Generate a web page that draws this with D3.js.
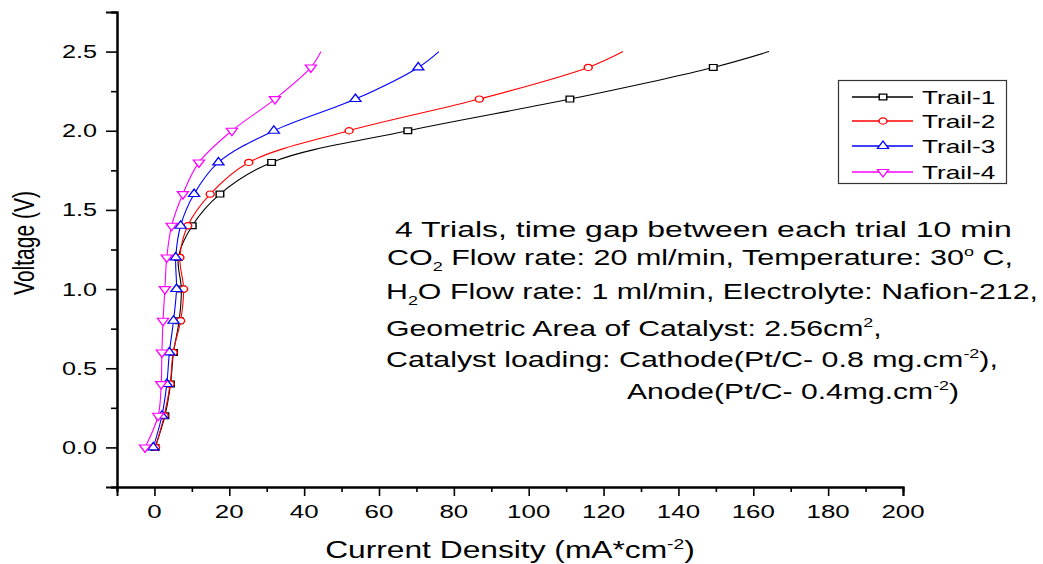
<!DOCTYPE html>
<html>
<head>
<meta charset="utf-8">
<script src="https://cdn.jsdelivr.net/npm/d3@7"></script>
<style>
    html, body { margin: 0; padding: 0; background: #ffffff; }
    #chartArea { width: 1043px; height: 564px; }
    text { font-family: "Liberation Sans", Arial, sans-serif; fill: #000000; }
</style>
</head>
<body>
<div id="chartArea"></div>
<script>
'use strict';

// data
const voltage = [0, 0.2, 0.4, 0.6, 0.8, 1.0, 1.2, 1.4, 1.6, 1.8, 2.0, 2.2, 2.4, 2.5];
const trail1 = [0.15, 2.8, 4.3, 5.1, 6.6, 7.2, 6.4, 10.1, 17.5, 31.3, 67.7, 111.0, 149.3, 164.2];
const trail2 = [0.3, 2.6, 4.2, 5.0, 7.0, 7.8, 6.8, 8.9, 14.9, 25.2, 52.0, 86.8, 115.9, 125.2];
const trail3 = [-0.3, 2.0, 3.3, 4.0, 5.1, 5.9, 5.7, 7.0, 10.6, 17.1, 31.9, 53.7, 70.5, 76.0];
const trail4 = [-2.5, 1.0, 1.8, 2.0, 2.3, 2.8, 3.3, 4.6, 7.6, 11.9, 20.7, 32.2, 41.8, 44.5];
const seriesNames = ["Trail-1", "Trail-2", "Trail-3", "Trail-4"];
const markerMaxVoltage = 2.4; // last point (2.5 V) has no symbol

const xMajorTicks = [0, 20, 40, 60, 80, 100, 120, 140, 160, 180, 200];
const xMinorTicks = [-10, 10, 30, 50, 70, 90, 110, 130, 150, 170, 190];
const yMajorTicks = [0.0, 0.5, 1.0, 1.5, 2.0, 2.5];
const yMinorTicks = [-0.25, 0.25, 0.75, 1.25, 1.75, 2.25, 2.75];

const xTitle = "Current Density (mA*cm";
const yTitle = "Voltage (V)";

{ // start scope

// the original picture is stretched sideways, text and symbols too
const stretch = 1.44;

const svg = d3.select("#chartArea")
                .append("svg")
                .attr("width", 1043)
                .attr("height", 564);

const xScale = d3.scaleLinear().domain([-10, 200]).range([117, 903]);
const yScale = d3.scaleLinear().domain([-0.25, 2.75]).range([487, 12]);

const styles = [
    { color: "#000000", symbol: d3.symbolSquare, size: 34, rotate: 0 },
    { color: "#ff0000", symbol: d3.symbolCircle, size: 30, rotate: 0 },
    { color: "#0000ff", symbol: d3.symbolTriangle, size: 32, rotate: 0 },
    { color: "#ff00ff", symbol: d3.symbolTriangle, size: 32, rotate: 180 }
];

const allSeries = [trail1, trail2, trail3, trail4].map((values, i) => {
    return {
        name: seriesNames[i],
        style: styles[i],
        points: values.map((c, j) => ({ c: c, v: voltage[j] }))
    };
});

//------------------------------------------------------------
// axes
//------------------------------------------------------------
const xAxisMajor = d3.axisBottom(xScale).tickValues(xMajorTicks).tickSize(9).tickFormat("");
const xAxisMinor = d3.axisBottom(xScale).tickValues(xMinorTicks).tickSize(5).tickFormat("");
const yAxisMajor = d3.axisLeft(yScale).tickValues(yMajorTicks).tickSize(11).tickFormat("");
const yAxisMinor = d3.axisLeft(yScale).tickValues(yMinorTicks).tickSize(6).tickFormat("");

const styleAxis = (g) => {
    g.select(".domain").attr("stroke", "#000").attr("stroke-width", 2);
    g.selectAll(".tick line").attr("stroke", "#000").attr("stroke-width", 1.6);
};

svg.append("g").attr("transform", "translate(0,487)").call(xAxisMinor).call(styleAxis);
svg.append("g").attr("transform", "translate(0,487)").call(xAxisMajor).call(styleAxis);
svg.append("g").attr("transform", "translate(117,0)").call(yAxisMinor).call(styleAxis);
svg.append("g").attr("transform", "translate(117,0)").call(yAxisMajor).call(styleAxis);

// stretched text helper
const addText = (x, y, size, anchor, sx) => {
    return svg.append("text")
                .attr("transform", `translate(${x},${y}) scale(${sx},1)`)
                .attr("font-size", size)
                .attr("text-anchor", anchor);
};

// squeeze or widen a left-anchored text so it spans the given width
const fitWidth = (t, x, y, width) => {
    let w = t.node().getBBox().width;
    t.attr("transform", `translate(${x},${y}) scale(${width / w},1)`);
};

xMajorTicks.forEach((t) => {
    addText(xScale(t), 518, 18, "middle", stretch).text(d3.format("d")(t));
});

yMajorTicks.forEach((t) => {
    addText(97, yScale(t) + 6.5, 17.5, "end", stretch).text(d3.format(".1f")(t));
});

// axis titles
const xt = addText(510, 558, 23, "middle", 1.38);
xt.append("tspan").text(xTitle);
xt.append("tspan").attr("font-size", 14).attr("dy", -9).text("-2");
xt.append("tspan").attr("dy", 9).text(")");

svg.append("text")
    .attr("transform", `translate(33.5,243) scale(${stretch},1) rotate(-90)`)
    .attr("font-size", 21)
    .attr("text-anchor", "middle")
    .text(yTitle);

//------------------------------------------------------------
// curves and symbols
//------------------------------------------------------------
const lineGen = d3.line()
                    .x((d) => xScale(d.c))
                    .y((d) => yScale(d.v))
                    .curve(d3.curveCatmullRom.alpha(0.5));

const drawSymbol = (g, style, x, y) => {
    g.append("path")
        .attr("d", d3.symbol().type(style.symbol).size(style.size)())
        .attr("transform", `translate(${x},${y}) scale(1.3,1) rotate(${style.rotate})`)
        .attr("fill", "#ffffff")
        .attr("stroke", style.color)
        .attr("stroke-width", 1.1);
};

allSeries.forEach((s) => {
    const g = svg.append("g");
    g.append("path")
        .datum(s.points)
        .attr("d", lineGen)
        .attr("fill", "none")
        .attr("stroke", s.style.color)
        .attr("stroke-width", 1.1);

    s.points.filter((p) => p.v <= markerMaxVoltage + 1e-9).forEach((p) => {
        drawSymbol(g, s.style, xScale(p.c), yScale(p.v));
    });
});

//------------------------------------------------------------
// legend
//------------------------------------------------------------
svg.append("rect")
    .attr("x", 838.5).attr("y", 80.5)
    .attr("width", 168).attr("height", 103)
    .attr("fill", "#ffffff")
    .attr("stroke", "#333333")
    .attr("stroke-width", 1.2);

const legendRows = [97, 121, 146, 172];
allSeries.forEach((s, i) => {
    const g = svg.append("g");
    g.append("line")
        .attr("x1", 852).attr("x2", 913)
        .attr("y1", legendRows[i]).attr("y2", legendRows[i])
        .attr("stroke", s.style.color)
        .attr("stroke-width", 1.3);
    drawSymbol(g, s.style, 883, legendRows[i]);
    addText(922, legendRows[i] + 7, 19, "start", 1.38).text(s.name);
});

//------------------------------------------------------------
// notes
//------------------------------------------------------------
const l1 = addText(395, 237, 22, "start", stretch).text("4 Trials, time gap between each trial 10 min");
fitWidth(l1, 395, 237, 617);

const l2 = addText(387, 265, 22, "start", stretch);
l2.append("tspan").text("CO");
l2.append("tspan").attr("font-size", 13).attr("dy", 6).text("2");
l2.append("tspan").attr("dy", -6).text(" Flow rate: 20 ml/min, Temperature: 30");
l2.append("tspan").attr("font-size", 13).attr("dy", -9).text("o");
l2.append("tspan").attr("dy", 9).text(" C,");
fitWidth(l2, 387, 265, 626);

const l3 = addText(386, 299, 22, "start", stretch);
l3.append("tspan").text("H");
l3.append("tspan").attr("font-size", 13).attr("dy", 6).text("2");
l3.append("tspan").attr("dy", -6).text("O Flow rate: 1 ml/min, Electrolyte: Nafion-212,");
fitWidth(l3, 386, 299, 652);

const l4 = addText(386, 336, 22, "start", stretch);
l4.append("tspan").text("Geometric Area of Catalyst: 2.56cm");
l4.append("tspan").attr("font-size", 13).attr("dy", -9).text("2");
l4.append("tspan").attr("dy", 9).text(",");
fitWidth(l4, 386, 336, 496);

const l5 = addText(386, 367, 22, "start", stretch);
l5.append("tspan").text("Catalyst loading: Cathode(Pt/C- 0.8 mg.cm");
l5.append("tspan").attr("font-size", 13).attr("dy", -9).text("-2");
l5.append("tspan").attr("dy", 9).text("),");
fitWidth(l5, 386, 367, 612);

const l6 = addText(627, 399, 22, "start", stretch);
l6.append("tspan").text("Anode(Pt/C- 0.4mg.cm");
l6.append("tspan").attr("font-size", 13).attr("dy", -9).text("-2");
l6.append("tspan").attr("dy", 9).text(")");
fitWidth(l6, 627, 399, 332);

} // end scope
</script>
</body>
</html>
